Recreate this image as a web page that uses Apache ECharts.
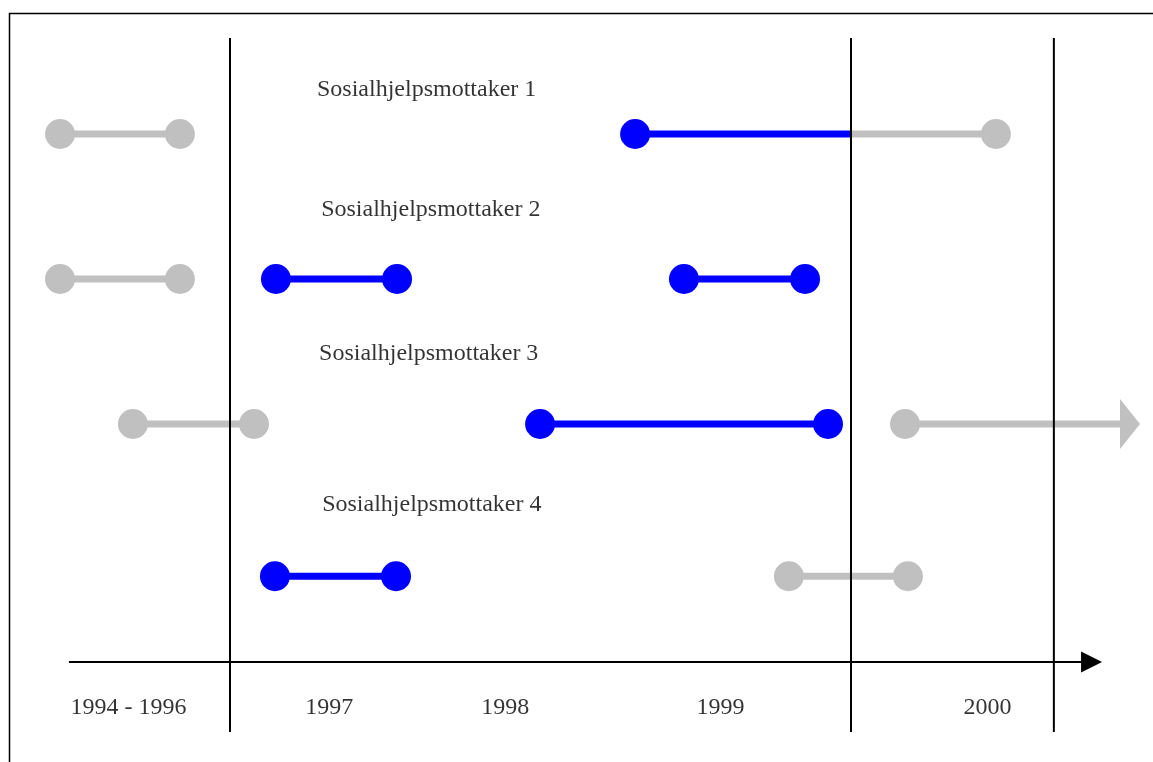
<!DOCTYPE html>
<html>
<head>
<meta charset="utf-8">
<script src="https://cdn.jsdelivr.net/npm/echarts@6/dist/echarts.min.js"></script>
<style>
html,body{margin:0;padding:0;background:#fff;}
#chart{width:1153px;height:762px;}
</style>
</head>
<body>
<div id="chart"></div>
<script>
// ---- data ----
const rowNames = ['Sosialhjelpsmottaker 1', 'Sosialhjelpsmottaker 2', 'Sosialhjelpsmottaker 3', 'Sosialhjelpsmottaker 4'];
const rowLevel = [1, 2, 3, 4.05];
const rowLabelX = [1997.95, 1997.97, 1997.96, 1997.975];
const rowLabelLevel = [0.695, 1.525, 2.515, 3.56];
const periodLabels = ['1994 - 1996', '1997', '1998', '1999', '2000'];
const periodLabelX = [1996.51, 1997.48, 1998.33, 1999.37, 2000.66];
const periodLabelLevel = 4.96;
const yearBoundaries = [1997, 2000, 2000.98];
const boundaryTop = 0.338;
const boundaryBottom = 5.124;
const timelineStart = 1996.222;
const timelineEnd = 2001.213;
const timelineLevel = 4.641;
// spells: [rowIndex, start, end, startDot, endDot, arrowAtEnd]
const blueSpells = [
  [0, 1998.957, 2000.0, 1, 0, 0],
  [1, 1997.222, 1997.807, 1, 1, 0],
  [1, 1999.193, 1999.778, 1, 1, 0],
  [2, 1998.498, 1999.889, 1, 1, 0],
  [3, 1997.217, 1997.802, 1, 1, 0]
];
const greySpells = [
  [0, 1996.179, 1996.758, 1, 1, 0],
  [0, 2000.0, 2000.700, 0, 1, 0],
  [1, 1996.179, 1996.758, 1, 1, 0],
  [2, 1996.531, 1997.116, 1, 1, 0],
  [2, 2000.261, 2001.396, 1, 0, 1],
  [3, 1999.700, 2000.275, 1, 1, 0]
];

const BLUE = '#0000FF';
const GREY = '#C0C0C0';
const FONT = '"Liberation Serif", "Times New Roman", serif';

function spellRenderer(color) {
  return function (params, api) {
    const lvl = rowLevel[api.value(0)];
    const p0 = api.coord([api.value(1), lvl]);
    const p1 = api.coord([api.value(2), lvl]);
    const hasArrow = api.value(5) === 1;
    const children = [];
    const lineEnd = hasArrow ? p1[0] - 20 : p1[0];
    children.push({
      type: 'line',
      shape: { x1: p0[0], y1: p0[1], x2: lineEnd, y2: p1[1] },
      style: { stroke: color, lineWidth: 7 }
    });
    if (hasArrow) {
      children.push({
        type: 'polygon',
        shape: { points: [[p1[0] - 20, p1[1] - 25], [p1[0], p1[1]], [p1[0] - 20, p1[1] + 25]] },
        style: { fill: color }
      });
    }
    if (api.value(3) === 1) {
      children.push({ type: 'circle', shape: { cx: p0[0], cy: p0[1], r: 15 }, style: { fill: color } });
    }
    if (api.value(4) === 1) {
      children.push({ type: 'circle', shape: { cx: p1[0], cy: p1[1], r: 15 }, style: { fill: color } });
    }
    return { type: 'group', children: children };
  };
}

const chart = echarts.init(document.getElementById('chart'), null, { renderer: 'canvas' });

const labelData = [];
rowNames.forEach((n, i) => labelData.push({ value: [rowLabelX[i], rowLabelLevel[i]], name: n }));
periodLabels.forEach((n, i) => labelData.push({ value: [periodLabelX[i], periodLabelLevel], name: n }));

const option = {
  animation: false,
  backgroundColor: '#fff',
  grid: { left: 23, top: 32.5, width: 1128.15, height: 725, outerBoundsMode: 'none' },
  xAxis: { type: 'value', min: 1996, max: 2001.45, show: false },
  yAxis: { type: 'value', min: 0.3, max: 5.3, inverse: true, show: false },
  graphic: [{
    type: 'rect',
    shape: { x: 9.5, y: 13.5, width: 1200, height: 800 },
    style: { fill: 'none', stroke: '#000', lineWidth: 1.5 },
    z: 100
  }],
  series: [
    {
      type: 'custom', name: 'grey', clip: false, z: 2,
      dimensions: ['row', 'start', 'end', 'sd', 'ed', 'arrow'],
      encode: { x: [1, 2], y: 0 },
      renderItem: spellRenderer(GREY),
      data: greySpells
    },
    {
      type: 'custom', name: 'blue', clip: false, z: 3,
      dimensions: ['row', 'start', 'end', 'sd', 'ed', 'arrow'],
      encode: { x: [1, 2], y: 0 },
      renderItem: spellRenderer(BLUE),
      data: blueSpells
    },
    {
      type: 'custom', name: 'boundaries', clip: false, z: 5,
      renderItem: function (params, api) {
        const a = api.coord([api.value(0), boundaryTop]);
        const b = api.coord([api.value(0), boundaryBottom]);
        return { type: 'line', shape: { x1: a[0], y1: a[1], x2: b[0], y2: b[1] }, style: { stroke: '#000', lineWidth: 2 } };
      },
      encode: { x: 0 },
      data: yearBoundaries.map(v => [v])
    },
    {
      type: 'custom', name: 'timeline', clip: false, z: 5,
      renderItem: function (params, api) {
        const a = api.coord([api.value(0), timelineLevel]);
        const b = api.coord([api.value(1), timelineLevel]);
        return {
          type: 'group', children: [
            { type: 'line', shape: { x1: a[0], y1: a[1], x2: b[0] - 20, y2: b[1] }, style: { stroke: '#000', lineWidth: 2 } },
            { type: 'polygon', shape: { points: [[b[0] - 21, b[1] - 10.5], [b[0], b[1]], [b[0] - 21, b[1] + 10.5]] }, style: { fill: '#000' } }
          ]
        };
      },
      encode: { x: [0, 1] },
      data: [[timelineStart, timelineEnd]]
    },
    {
      type: 'scatter', name: 'labels', clip: false, z: 6,
      symbolSize: 0,
      silent: true,
      label: {
        show: true, position: 'inside',
        formatter: p => p.name,
        color: '#000', fontFamily: FONT, fontSize: 24
      },
      data: labelData
    }
  ]
};
chart.setOption(option);
</script>
</body>
</html>
